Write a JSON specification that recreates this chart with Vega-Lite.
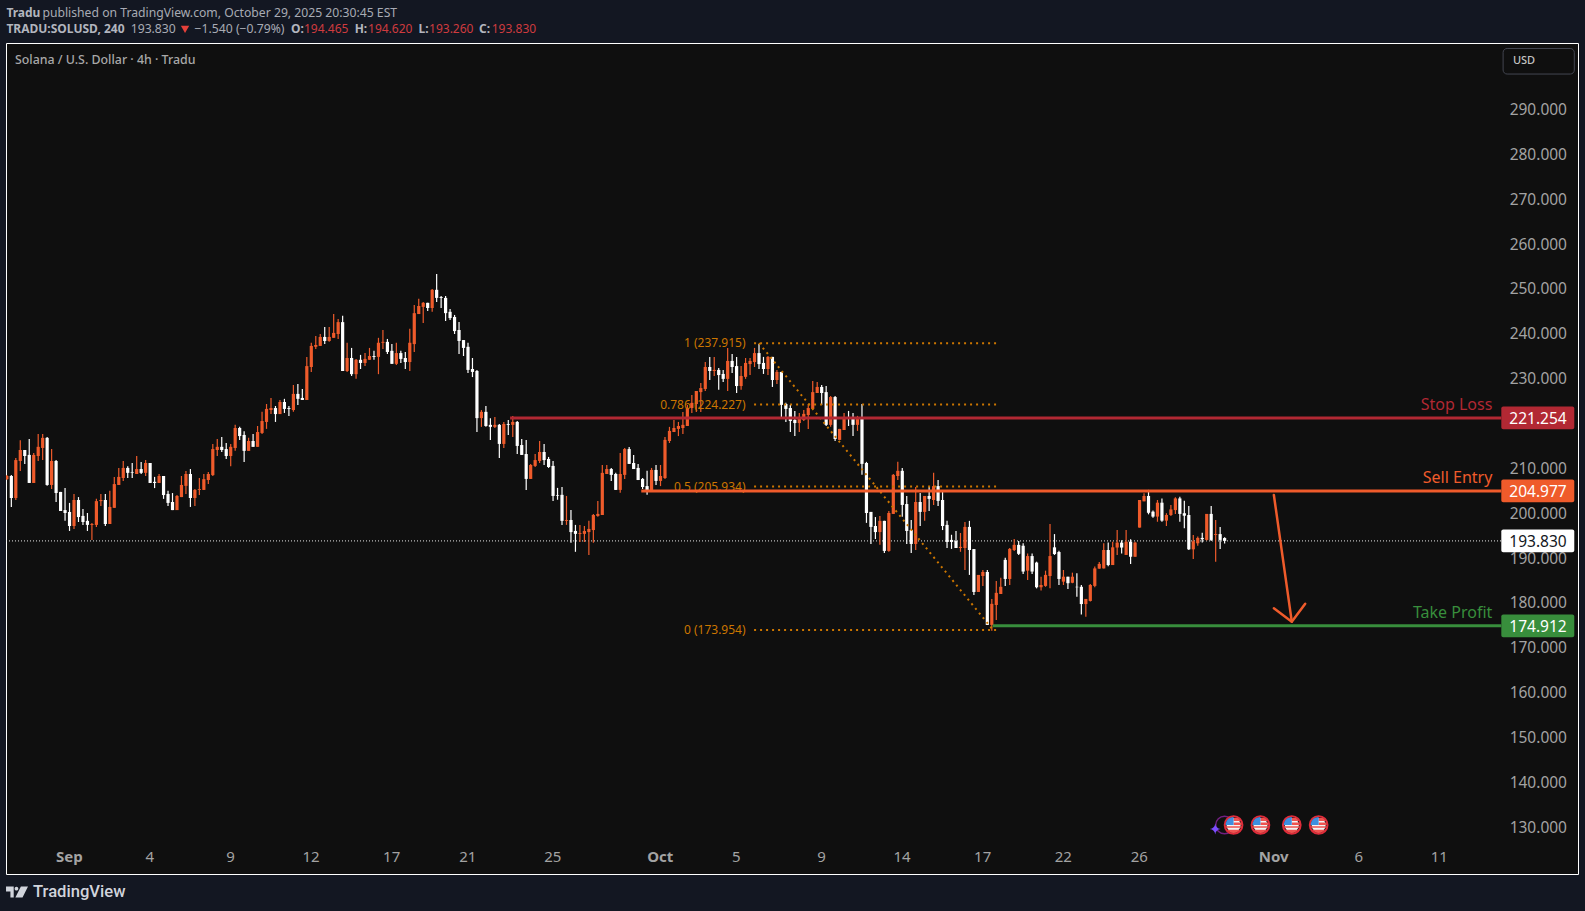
{
  "$schema": "https://vega.github.io/schema/vega-lite/v6.json",
  "description": "Solana / U.S. Dollar 4h candles with sell setup levels",
  "width": 1572,
  "height": 831,
  "autosize": {"type": "none"},
  "padding": {"left": 6, "top": 43, "right": 7, "bottom": 37},
  "background": "#131722",
  "view": {"fill": "#0f0f0f", "stroke": "#ffffff", "strokeWidth": 1},
  "config": {"font": "Noto Sans", "text": {"font": "Noto Sans"}},
  "datasets": {
    "candles": [
      {"bar":-1,"open":207.6,"high":208.5,"low":207.4,"close":208.3},
      {"bar":0,"open":208.3,"high":208.5,"low":201.4,"close":203.4},
      {"bar":1,"open":203.4,"high":212.3,"low":202.95,"close":211.85},
      {"bar":2,"open":211.65,"high":216.25,"low":209.4,"close":214.1},
      {"bar":3,"open":214.1,"high":214.1,"low":211,"close":212.75},
      {"bar":4,"open":213,"high":216.55,"low":206.75,"close":206.75},
      {"bar":5,"open":206.75,"high":213.45,"low":206.75,"close":213},
      {"bar":6,"open":212.75,"high":217.65,"low":211.65,"close":214.8},
      {"bar":7,"open":214.55,"high":217.65,"low":211.85,"close":216.8},
      {"bar":8,"open":216.8,"high":217,"low":206.1,"close":206.3},
      {"bar":9,"open":206.3,"high":214.3,"low":205.4,"close":211.65},
      {"bar":10,"open":211.65,"high":211.85,"low":202.5,"close":204.5},
      {"bar":11,"open":204.75,"high":204.75,"low":200.5,"close":200.5},
      {"bar":12,"open":200.7,"high":205.6,"low":198.3,"close":200.05},
      {"bar":13,"open":200.3,"high":202.3,"low":196.05,"close":197.15},
      {"bar":14,"open":197.15,"high":204.3,"low":196.5,"close":202.95},
      {"bar":15,"open":202.95,"high":203.6,"low":198.05,"close":199.15},
      {"bar":16,"open":199.4,"high":200.95,"low":197.4,"close":198.05},
      {"bar":17,"open":198.3,"high":200.05,"low":196.05,"close":197.4},
      {"bar":18,"open":197.4,"high":197.85,"low":194.05,"close":197.6},
      {"bar":19,"open":197.4,"high":203.2,"low":196.95,"close":202.7},
      {"bar":20,"open":202.7,"high":204.3,"low":201.6,"close":202.95},
      {"bar":21,"open":202.95,"high":204.3,"low":197.15,"close":197.6},
      {"bar":22,"open":197.6,"high":205,"low":197.6,"close":201.4},
      {"bar":23,"open":201.2,"high":208.1,"low":201.2,"close":206.5},
      {"bar":24,"open":206.3,"high":210.1,"low":206.3,"close":208.1},
      {"bar":25,"open":207.85,"high":211.65,"low":207.2,"close":210.1},
      {"bar":26,"open":210.1,"high":210.5,"low":207.85,"close":209},
      {"bar":27,"open":209.2,"high":211.2,"low":207.85,"close":209.05},
      {"bar":28,"open":208.75,"high":212.75,"low":208.75,"close":209.85},
      {"bar":29,"open":209.85,"high":211.4,"low":208.75,"close":209},
      {"bar":30,"open":209,"high":211.85,"low":208.3,"close":211.2},
      {"bar":31,"open":211.2,"high":211.2,"low":206.75,"close":206.75},
      {"bar":32,"open":207,"high":208.1,"low":205.6,"close":206.75},
      {"bar":33,"open":206.75,"high":208.75,"low":206.75,"close":208.3},
      {"bar":34,"open":208.3,"high":208.3,"low":203.2,"close":204.05},
      {"bar":35,"open":204.3,"high":205,"low":201.6,"close":202.3},
      {"bar":36,"open":202.5,"high":204.5,"low":200.7,"close":200.7},
      {"bar":37,"open":200.7,"high":204.05,"low":200.7,"close":203.85},
      {"bar":38,"open":203.6,"high":208.3,"low":203.6,"close":206.3},
      {"bar":39,"open":206.1,"high":209.4,"low":204.3,"close":208.75},
      {"bar":40,"open":208.75,"high":209.85,"low":201.4,"close":203.4},
      {"bar":41,"open":203.4,"high":205.4,"low":201.6,"close":205.2},
      {"bar":42,"open":205.2,"high":207.85,"low":204.05,"close":205.4},
      {"bar":43,"open":205.2,"high":208.75,"low":205.2,"close":207.6},
      {"bar":44,"open":207.4,"high":209.2,"low":206.5,"close":208.75},
      {"bar":45,"open":208.5,"high":215.45,"low":208.3,"close":214.3},
      {"bar":46,"open":214.1,"high":216.55,"low":212.75,"close":214.8},
      {"bar":47,"open":214.8,"high":217,"low":213.65,"close":214.1},
      {"bar":48,"open":214.3,"high":215.65,"low":212.1,"close":212.75},
      {"bar":49,"open":212.75,"high":215.45,"low":210.5,"close":214.8},
      {"bar":50,"open":214.55,"high":219.7,"low":213.9,"close":219},
      {"bar":51,"open":219,"high":219.25,"low":216.3,"close":217.2},
      {"bar":52,"open":217.45,"high":218.3,"low":211.4,"close":213.9},
      {"bar":53,"open":213.9,"high":216.8,"low":213.9,"close":216.1},
      {"bar":54,"open":216.1,"high":217.65,"low":214.8,"close":214.8},
      {"bar":55,"open":214.8,"high":219.45,"low":214.8,"close":218.1},
      {"bar":56,"open":217.9,"high":222.6,"low":217.65,"close":220.55},
      {"bar":57,"open":220.35,"high":224.35,"low":218.8,"close":223.25},
      {"bar":58,"open":223,"high":225.7,"low":222.1,"close":223.45},
      {"bar":59,"open":223.45,"high":223.9,"low":220.35,"close":222.1},
      {"bar":60,"open":222.1,"high":225.25,"low":222.1,"close":224.8},
      {"bar":61,"open":224.8,"high":225.5,"low":222.35,"close":223.25},
      {"bar":62,"open":223.45,"high":223.9,"low":221.7,"close":223.25},
      {"bar":63,"open":223,"high":228.6,"low":222.6,"close":226.6},
      {"bar":64,"open":226.6,"high":228.8,"low":224.15,"close":225.5},
      {"bar":65,"open":225.7,"high":227.7,"low":225.25,"close":225.25},
      {"bar":66,"open":225.25,"high":234.85,"low":225.25,"close":232.8},
      {"bar":67,"open":232.6,"high":238,"low":231.5,"close":237.3},
      {"bar":68,"open":237.1,"high":239.5,"low":236.6,"close":237.5},
      {"bar":69,"open":237.3,"high":239.95,"low":237.3,"close":239.3},
      {"bar":70,"open":239.3,"high":241.5,"low":237.7,"close":238.4},
      {"bar":71,"open":238.4,"high":241.5,"low":238.2,"close":239.3},
      {"bar":72,"open":239.1,"high":244.4,"low":239.1,"close":240.2},
      {"bar":73,"open":239.95,"high":243.3,"low":238.85,"close":242.6},
      {"bar":74,"open":242.6,"high":244,"low":231.7,"close":231.7},
      {"bar":75,"open":231.7,"high":238,"low":231.5,"close":234.6},
      {"bar":76,"open":234.6,"high":236.85,"low":230.6,"close":231},
      {"bar":77,"open":231,"high":234.4,"low":229.95,"close":234.2},
      {"bar":78,"open":234.2,"high":235.3,"low":232.15,"close":233.5},
      {"bar":79,"open":233.5,"high":235.7,"low":232.8,"close":234.4},
      {"bar":80,"open":234.2,"high":236.85,"low":234.2,"close":235.05},
      {"bar":81,"open":235.05,"high":236.2,"low":234.2,"close":234.85},
      {"bar":82,"open":234.85,"high":239.1,"low":231,"close":238},
      {"bar":83,"open":238,"high":240.85,"low":236.6,"close":238.2},
      {"bar":84,"open":238.2,"high":238.85,"low":235.5,"close":235.95},
      {"bar":85,"open":236.2,"high":237.7,"low":233.3,"close":233.3},
      {"bar":86,"open":233.3,"high":238,"low":233.05,"close":235.7},
      {"bar":87,"open":235.7,"high":236.2,"low":233.5,"close":234.4},
      {"bar":88,"open":234.6,"high":235.95,"low":232.15,"close":233.7},
      {"bar":89,"open":233.7,"high":241.1,"low":231.7,"close":238},
      {"bar":90,"open":237.7,"high":246.4,"low":235.95,"close":244.6},
      {"bar":91,"open":244.4,"high":247.8,"low":244.4,"close":246.2},
      {"bar":92,"open":246,"high":247.1,"low":242.4,"close":246.9},
      {"bar":93,"open":246.9,"high":246.9,"low":245.1,"close":245.75},
      {"bar":94,"open":245.75,"high":250,"low":244.9,"close":249.8},
      {"bar":95,"open":249.8,"high":253.3,"low":247.1,"close":248},
      {"bar":96,"open":248.2,"high":248.4,"low":245.75,"close":248},
      {"bar":97,"open":248,"high":248.4,"low":242.85,"close":244.6},
      {"bar":98,"open":244.9,"high":245.5,"low":243.1,"close":243.5},
      {"bar":99,"open":243.75,"high":244.2,"low":239.95,"close":240.6},
      {"bar":100,"open":240.85,"high":242.6,"low":235.5,"close":238.4},
      {"bar":101,"open":238.6,"high":238.6,"low":235.05,"close":236.85},
      {"bar":102,"open":237.1,"high":238,"low":231.25,"close":231.95},
      {"bar":103,"open":232.15,"high":234.6,"low":230.35,"close":231.5},
      {"bar":104,"open":231.7,"high":231.95,"low":218.1,"close":221.2},
      {"bar":105,"open":221.2,"high":223,"low":219.25,"close":222.6},
      {"bar":106,"open":222.6,"high":223.9,"low":219.25,"close":219.45},
      {"bar":107,"open":219.7,"high":221.2,"low":216.3,"close":219.25},
      {"bar":108,"open":219.25,"high":221.45,"low":219,"close":219.7},
      {"bar":109,"open":219.7,"high":219.9,"low":212.3,"close":215.45},
      {"bar":110,"open":215.45,"high":220.35,"low":214.55,"close":219.9},
      {"bar":111,"open":219.9,"high":220.8,"low":217.45,"close":219.7},
      {"bar":112,"open":219.7,"high":221.7,"low":217,"close":220.35},
      {"bar":113,"open":220.35,"high":220.55,"low":213.2,"close":215},
      {"bar":114,"open":215.2,"high":216.55,"low":213,"close":213},
      {"bar":115,"open":213.2,"high":216.35,"low":205.2,"close":207.65},
      {"bar":116,"open":207.65,"high":211,"low":207.65,"close":210.75},
      {"bar":117,"open":210.55,"high":213.2,"low":210.3,"close":211.85},
      {"bar":118,"open":211.65,"high":216.1,"low":211.2,"close":213.65},
      {"bar":119,"open":213.65,"high":215.45,"low":210.75,"close":211.85},
      {"bar":120,"open":212.1,"high":212.55,"low":210.1,"close":210.3},
      {"bar":121,"open":210.55,"high":211.65,"low":202.75,"close":203.85},
      {"bar":122,"open":204,"high":205.65,"low":203,"close":203.85},
      {"bar":123,"open":204.1,"high":205.85,"low":197.4,"close":198.3},
      {"bar":124,"open":198.3,"high":203.85,"low":197.4,"close":198.5},
      {"bar":125,"open":198.5,"high":200.7,"low":193.4,"close":195.8},
      {"bar":126,"open":196.05,"high":197.4,"low":191.4,"close":195.4},
      {"bar":127,"open":195.4,"high":197.4,"low":193.6,"close":195.6},
      {"bar":128,"open":195.4,"high":197.15,"low":193.6,"close":196.05},
      {"bar":129,"open":195.8,"high":198.3,"low":190.7,"close":196.5},
      {"bar":130,"open":196.25,"high":199.85,"low":193.4,"close":199.6},
      {"bar":131,"open":199.4,"high":202.75,"low":199.2,"close":199.85},
      {"bar":132,"open":199.6,"high":210.75,"low":199.6,"close":209},
      {"bar":133,"open":208.75,"high":210.75,"low":208.75,"close":209.85},
      {"bar":134,"open":209.85,"high":210.1,"low":207.2,"close":208.55},
      {"bar":135,"open":208.75,"high":209,"low":205.2,"close":205.2},
      {"bar":136,"open":205.2,"high":213.45,"low":204.55,"close":208.75},
      {"bar":137,"open":208.55,"high":214.55,"low":207.65,"close":214.3},
      {"bar":138,"open":214.3,"high":214.75,"low":211,"close":211},
      {"bar":139,"open":211.2,"high":213,"low":209.85,"close":209.85},
      {"bar":140,"open":210.1,"high":211,"low":207.4,"close":207.4},
      {"bar":141,"open":207.65,"high":207.85,"low":205.4,"close":205.85},
      {"bar":142,"open":206.05,"high":209.45,"low":204.1,"close":204.75},
      {"bar":143,"open":204.75,"high":210.1,"low":204.75,"close":209.65},
      {"bar":144,"open":209.65,"high":210.75,"low":206.3,"close":207.2},
      {"bar":145,"open":207.2,"high":210.75,"low":206.05,"close":208.3},
      {"bar":146,"open":207.85,"high":217,"low":207.65,"close":216.35},
      {"bar":147,"open":216.1,"high":219.25,"low":215.65,"close":218.35},
      {"bar":148,"open":218.1,"high":220.8,"low":218.1,"close":219},
      {"bar":149,"open":218.8,"high":220.35,"low":217.2,"close":219.45},
      {"bar":150,"open":219,"high":222.55,"low":217.65,"close":219.7},
      {"bar":151,"open":219.45,"high":224.15,"low":219.45,"close":223.45},
      {"bar":152,"open":223.45,"high":226.35,"low":222.35,"close":224.6},
      {"bar":153,"open":224.35,"high":227.25,"low":222.55,"close":227.25},
      {"bar":154,"open":227,"high":229.05,"low":222.55,"close":227.9},
      {"bar":155,"open":227.7,"high":233.7,"low":227.25,"close":232.6},
      {"bar":156,"open":232.6,"high":234.85,"low":229.7,"close":231.7},
      {"bar":157,"open":231.7,"high":234.85,"low":230.6,"close":231.95},
      {"bar":158,"open":231.95,"high":232.4,"low":227.5,"close":230.8},
      {"bar":159,"open":231.05,"high":231.95,"low":229.25,"close":229.95},
      {"bar":160,"open":229.95,"high":236.85,"low":227.25,"close":233.95},
      {"bar":161,"open":233.95,"high":235.5,"low":231.25,"close":232.6},
      {"bar":162,"open":232.8,"high":234.85,"low":226.8,"close":228.35},
      {"bar":163,"open":228.35,"high":232.8,"low":227.5,"close":230.6},
      {"bar":164,"open":230.4,"high":234.6,"low":229.95,"close":233.5},
      {"bar":165,"open":233.25,"high":234.6,"low":230.8,"close":233.95},
      {"bar":166,"open":233.7,"high":236.85,"low":232.6,"close":235.7},
      {"bar":167,"open":235.7,"high":237.75,"low":232.15,"close":233.25},
      {"bar":168,"open":233.5,"high":234.85,"low":231.05,"close":232.15},
      {"bar":169,"open":232.15,"high":235.05,"low":230.8,"close":234.85},
      {"bar":170,"open":234.85,"high":234.85,"low":228.15,"close":229.7},
      {"bar":171,"open":229.7,"high":231.95,"low":228.8,"close":231.5},
      {"bar":172,"open":231.5,"high":231.5,"low":221.25,"close":224.15},
      {"bar":173,"open":224.35,"high":224.6,"low":220.35,"close":223.25},
      {"bar":174,"open":223.45,"high":224.15,"low":218.1,"close":220.55},
      {"bar":175,"open":220.8,"high":222.8,"low":217.2,"close":220.1},
      {"bar":176,"open":220.1,"high":222.35,"low":218.1,"close":221.45},
      {"bar":177,"open":220.8,"high":223,"low":220.55,"close":222.15},
      {"bar":178,"open":221.9,"high":224.35,"low":218.8,"close":223.45},
      {"bar":179,"open":223.25,"high":229.45,"low":223.25,"close":227},
      {"bar":180,"open":226.8,"high":229.25,"low":226.8,"close":228.15},
      {"bar":181,"open":228.15,"high":228.6,"low":224.15,"close":226.8},
      {"bar":182,"open":227,"high":228.35,"low":219.45,"close":219.7},
      {"bar":183,"open":219.7,"high":226.15,"low":219.25,"close":225.9},
      {"bar":184,"open":225.9,"high":226.15,"low":216.1,"close":216.55},
      {"bar":185,"open":216.35,"high":218.8,"low":216.35,"close":218.8},
      {"bar":186,"open":218.55,"high":222.35,"low":218.55,"close":221.45},
      {"bar":187,"open":221.25,"high":222.8,"low":219.45,"close":221},
      {"bar":188,"open":221,"high":222.35,"low":217.2,"close":219.7},
      {"bar":189,"open":219.7,"high":221.7,"low":218.35,"close":221.45},
      {"bar":190,"open":221.45,"high":224.35,"low":208.55,"close":211},
      {"bar":191,"open":211.2,"high":211.45,"low":197.85,"close":200.05},
      {"bar":192,"open":200.3,"high":200.3,"low":193.15,"close":196.95},
      {"bar":193,"open":197.15,"high":199.15,"low":194.25,"close":195.8},
      {"bar":194,"open":195.8,"high":199.4,"low":192.95,"close":198.3},
      {"bar":195,"open":198.3,"high":198.3,"low":191.15,"close":191.6},
      {"bar":196,"open":191.6,"high":200.5,"low":191.4,"close":200.05},
      {"bar":197,"open":199.85,"high":208.75,"low":199.85,"close":208.55},
      {"bar":198,"open":208.3,"high":211.45,"low":207.4,"close":209.45},
      {"bar":199,"open":209.45,"high":210.1,"low":199.2,"close":201.85},
      {"bar":200,"open":202.05,"high":203.85,"low":193.15,"close":196.05},
      {"bar":201,"open":196.25,"high":198.5,"low":191.15,"close":193.15},
      {"bar":202,"open":193.15,"high":205.85,"low":191.8,"close":202.5},
      {"bar":203,"open":202.5,"high":204.5,"low":197.15,"close":200.3},
      {"bar":204,"open":200.3,"high":203.85,"low":198.3,"close":203.85},
      {"bar":205,"open":203.85,"high":205.85,"low":200.5,"close":203.2},
      {"bar":206,"open":202.95,"high":209,"low":201.85,"close":206.05},
      {"bar":207,"open":206.05,"high":207.4,"low":201.6,"close":202.75},
      {"bar":208,"open":202.95,"high":204.95,"low":196.25,"close":197.15},
      {"bar":209,"open":197.4,"high":198.3,"low":192.25,"close":193.6},
      {"bar":210,"open":194.05,"high":195.2,"low":192.05,"close":193.6},
      {"bar":211,"open":193.8,"high":196.05,"low":192.25,"close":192.25},
      {"bar":212,"open":192.25,"high":195.6,"low":191.4,"close":192.5},
      {"bar":213,"open":192.25,"high":198.05,"low":187.35,"close":196.95},
      {"bar":214,"open":196.95,"high":198.3,"low":186.25,"close":191.8},
      {"bar":215,"open":192,"high":192,"low":181.8,"close":182.45},
      {"bar":216,"open":182.45,"high":186.25,"low":182.45,"close":186.25},
      {"bar":217,"open":186,"high":187.35,"low":183.8,"close":186.9},
      {"bar":218,"open":186.9,"high":187.35,"low":175.1,"close":175.1},
      {"bar":219,"open":175.1,"high":180.9,"low":173.8,"close":179.8},
      {"bar":220,"open":179.55,"high":184.9,"low":176.2,"close":182.25},
      {"bar":221,"open":182,"high":185.6,"low":182,"close":183.6},
      {"bar":222,"open":189.6,"high":190.05,"low":183.8,"close":185.35},
      {"bar":223,"open":185.35,"high":192.25,"low":184,"close":192.05},
      {"bar":224,"open":191.8,"high":194.25,"low":191.6,"close":192.95},
      {"bar":225,"open":192.95,"high":193.8,"low":190.7,"close":190.95},
      {"bar":226,"open":192.75,"high":193.3,"low":186.45,"close":187},
      {"bar":227,"open":187.2,"high":191.05,"low":185.1,"close":190.45},
      {"bar":228,"open":190.45,"high":191.05,"low":186.45,"close":187},
      {"bar":229,"open":189,"high":189.2,"low":183.25,"close":183.5},
      {"bar":230,"open":183.5,"high":185.85,"low":182.75,"close":184},
      {"bar":231,"open":183.8,"high":187.2,"low":183.6,"close":186.25},
      {"bar":232,"open":186,"high":197.6,"low":183.25,"close":190.45},
      {"bar":233,"open":192.4,"high":195.35,"low":190.7,"close":190.9},
      {"bar":234,"open":191.35,"high":191.65,"low":184,"close":185.35},
      {"bar":235,"open":184.75,"high":187.35,"low":184,"close":185.85},
      {"bar":236,"open":185.85,"high":185.85,"low":183.1,"close":184.4},
      {"bar":237,"open":184.5,"high":186.75,"low":184.4,"close":185.85},
      {"bar":238,"open":183.6,"high":186.6,"low":181.4,"close":183.5},
      {"bar":239,"open":183.6,"high":184,"low":177.45,"close":179.75},
      {"bar":240,"open":179.75,"high":180.9,"low":176.95,"close":180.9},
      {"bar":241,"open":180.45,"high":184.2,"low":180.3,"close":184},
      {"bar":242,"open":183.8,"high":188.1,"low":183.5,"close":187.7},
      {"bar":243,"open":187.65,"high":189.15,"low":187.65,"close":188.7},
      {"bar":244,"open":187.7,"high":193.3,"low":187.7,"close":191.8},
      {"bar":245,"open":191.8,"high":193.45,"low":188.2,"close":188.45},
      {"bar":246,"open":188.45,"high":193.65,"low":188.45,"close":192.4},
      {"bar":247,"open":192.35,"high":196.25,"low":190.7,"close":193.45},
      {"bar":248,"open":193.45,"high":194,"low":191.05,"close":192.35},
      {"bar":249,"open":190.7,"high":196.25,"low":190.7,"close":193.65},
      {"bar":250,"open":193.65,"high":194.2,"low":188.7,"close":190.3},
      {"bar":251,"open":190.3,"high":193.65,"low":190.3,"close":193.45},
      {"bar":252,"open":196.8,"high":202.95,"low":196.8,"close":202.95},
      {"bar":253,"open":202.65,"high":204.45,"low":202.65,"close":203.85},
      {"bar":254,"open":203.85,"high":205.2,"low":199.75,"close":200.1},
      {"bar":255,"open":200.35,"high":200.6,"low":199,"close":199.25},
      {"bar":256,"open":199.25,"high":202.95,"low":198.1,"close":202.35},
      {"bar":257,"open":202.35,"high":203.3,"low":198.1,"close":198.35},
      {"bar":258,"open":198.35,"high":200,"low":197.15,"close":199.6},
      {"bar":259,"open":199.6,"high":201.85,"low":199.4,"close":200.85},
      {"bar":260,"open":200.7,"high":203.55,"low":199.85,"close":203.3},
      {"bar":261,"open":203.3,"high":203.7,"low":198.1,"close":199.85},
      {"bar":262,"open":200,"high":202.8,"low":196.65,"close":199.45},
      {"bar":263,"open":199.6,"high":201.6,"low":191.8,"close":191.95},
      {"bar":264,"open":191.95,"high":195.15,"low":189.8,"close":193.75},
      {"bar":265,"open":193.3,"high":194.8,"low":192.75,"close":194.5},
      {"bar":266,"open":194.5,"high":195.65,"low":193.5,"close":194.2},
      {"bar":267,"open":194.05,"high":199.85,"low":193.9,"close":199.85},
      {"bar":268,"open":199.85,"high":201.6,"low":193.8,"close":194.05},
      {"bar":269,"open":195.15,"high":198.5,"low":189.2,"close":195.35},
      {"bar":270,"open":195.35,"high":196.95,"low":192.05,"close":194.05},
      {"bar":271,"open":194.465,"high":194.62,"low":193.26,"close":193.83}
    ],
    "fib": [
      {"bar":165.9,"end":220.1,"price":237.915,"labelBar":164,"label":"1 (237.915)"},
      {"bar":165.9,"end":220.1,"price":224.227,"labelBar":164,"label":"0.786 (224.227)"},
      {"bar":165.9,"end":220.1,"price":205.934,"labelBar":164,"label":"0.5 (205.934)"},
      {"bar":165.9,"end":220.1,"price":173.954,"labelBar":164,"label":"0 (173.954)"}
    ],
    "diagonal": [
      {"bar":167,"price":237.915},
      {"bar":219.3,"price":173.954}
    ],
    "levels": [
      {"name":"Stop Loss","bar":111.4,"end":332.8,"price":221.254,"labelBar":330.8,"labelPrice":224.13},
      {"name":"Sell Entry","bar":140.7,"end":332.8,"price":204.977,"labelBar":330.8,"labelPrice":207.92},
      {"name":"Take Profit","bar":219.2,"end":332.8,"price":174.912,"labelBar":330.8,"labelPrice":177.83}
    ],
    "tags": [
      {"name":"Stop Loss","bar":332.8,"end":349.1,"mid":341,"price":221.254,"lo":218.72,"hi":223.79},
      {"name":"Sell Entry","bar":332.8,"end":349.1,"mid":341,"price":204.977,"lo":202.44,"hi":207.51},
      {"name":"Last","bar":332.8,"end":349.1,"mid":341,"price":193.83,"lo":191.3,"hi":196.36},
      {"name":"Take Profit","bar":332.8,"end":349.1,"mid":341,"price":174.912,"lo":172.38,"hi":177.45}
    ],
    "arrow": [
      {"part":"shaft","seq":1,"bar":282,"price":204.07},
      {"part":"shaft","seq":2,"bar":286,"price":175.83},
      {"part":"head","seq":1,"bar":282,"price":178.8},
      {"part":"head","seq":2,"bar":286,"price":175.83},
      {"part":"head","seq":3,"bar":289,"price":179.8}
    ],
    "events": [
      {"bar":273,"price":130.5},
      {"bar":279,"price":130.5},
      {"bar":286,"price":130.5},
      {"bar":292,"price":130.5}
    ]
  },
  "encoding": {
    "x": {
      "field": "bar",
      "type": "quantitative",
      "scale": {"domain": [-1.19, 349.93], "nice": false, "zero": false, "padding": 0},
      "axis": {
        "title": null,
        "orient": "bottom",
        "offset": -18,
        "grid": false,
        "domain": false,
        "ticks": false,
        "labelPadding": 0,
        "labelOffset": -0.7,
        "labelBaseline": "middle",
        "labelFontSize": 15,
        "labelColor": "#a3a3a3",
        "labelFlush": false,
        "labelOverlap": false,
        "values": [13, 31, 49, 67, 85, 102, 121, 145, 162, 181, 199, 217, 235, 252, 282, 301, 319],
        "labelExpr": "{'13':'Sep','31':'4','49':'9','67':'12','85':'17','102':'21','121':'25','145':'Oct','162':'5','181':'9','199':'14','217':'17','235':'22','252':'26','282':'Nov','301':'6','319':'11'}[datum.value]",
        "labelFontWeight": {"condition": {"test": "datum.value==13||datum.value==145||datum.value==282", "value": "bold"}, "value": "normal"}
      }
    },
    "y": {
      "field": "price",
      "type": "quantitative",
      "scale": {"domain": [119.58, 304.82], "nice": false, "zero": false},
      "axis": {
        "title": null,
        "orient": "right",
        "offset": -11.5,
        "grid": false,
        "domain": false,
        "ticks": false,
        "labelPadding": 0,
        "labelAlign": "right",
        "labelFontSize": 15.5,
        "labelColor": "#a3a3a3",
        "labelFlush": false,
        "labelOverlap": false,
        "format": ".3f",
        "values": [130, 140, 150, 160, 170, 180, 190, 200, 210, 230, 240, 250, 260, 270, 280, 290]
      }
    }
  },
  "layer": [
    {
      "data": {"values": [{"bar": -1.19, "end": 332.8, "price": 193.83}]},
      "mark": {"type": "rule", "color": "#e8e8e8", "strokeWidth": 1, "strokeDash": [1, 2]},
      "encoding": {"x2": {"field": "end"}}
    },
    {
      "data": {"name": "candles"},
      "mark": {"type": "rule", "strokeWidth": 1.2, "clip": true},
      "encoding": {
        "y": {"field": "low", "type": "quantitative", "scale": {"domain": [119.58, 304.82], "nice": false, "zero": false}},
        "y2": {"field": "high"},
        "color": {"condition": {"test": "datum.close>=datum.open", "value": "#ef5b2b"}, "value": "#ffffff"}
      }
    },
    {
      "data": {"name": "candles"},
      "mark": {"type": "bar", "size": 3.2, "clip": true},
      "encoding": {
        "y": {"field": "open", "type": "quantitative", "scale": {"domain": [119.58, 304.82], "nice": false, "zero": false}},
        "y2": {"field": "close"},
        "color": {"condition": {"test": "datum.close>=datum.open", "value": "#ef5b2b"}, "value": "#ffffff"}
      }
    },
    {
      "data": {"name": "fib"},
      "mark": {"type": "rule", "color": "#cc7600", "strokeWidth": 2, "strokeDash": [2, 4]},
      "encoding": {"x2": {"field": "end"}}
    },
    {
      "data": {"name": "fib"},
      "mark": {"type": "text", "align": "right", "baseline": "middle", "fontSize": 12, "color": "#cc7600"},
      "encoding": {
        "x": {"field": "labelBar", "type": "quantitative", "scale": {"domain": [-1.19, 349.93], "nice": false, "zero": false, "padding": 0}},
        "text": {"field": "label"}
      }
    },
    {
      "data": {"name": "diagonal"},
      "mark": {"type": "line", "color": "#cc7600", "strokeWidth": 2, "strokeDash": [2, 4]}
    },
    {
      "data": {"name": "levels"},
      "mark": {"type": "rule", "strokeWidth": 3},
      "encoding": {
        "x2": {"field": "end"},
        "color": {"field": "name", "type": "nominal", "scale": {"domain": ["Stop Loss", "Sell Entry", "Take Profit", "Last"], "range": ["#b22833", "#ef5b2b", "#388e3c", "#ffffff"]}, "legend": null}
      }
    },
    {
      "data": {"name": "levels"},
      "mark": {"type": "text", "align": "right", "baseline": "middle", "fontSize": 16},
      "encoding": {
        "x": {"field": "labelBar", "type": "quantitative", "scale": {"domain": [-1.19, 349.93], "nice": false, "zero": false, "padding": 0}},
        "y": {"field": "labelPrice", "type": "quantitative", "scale": {"domain": [119.58, 304.82], "nice": false, "zero": false}},
        "text": {"field": "name"},
        "color": {"field": "name", "type": "nominal", "scale": {"domain": ["Stop Loss", "Sell Entry", "Take Profit", "Last"], "range": ["#b22833", "#ef5b2b", "#388e3c", "#ffffff"]}, "legend": null}
      }
    },
    {
      "data": {"name": "arrow"},
      "mark": {"type": "line", "color": "#ef5b2b", "strokeWidth": 2.5, "strokeCap": "round", "strokeJoin": "round"},
      "encoding": {"detail": {"field": "part"}, "order": {"field": "seq"}}
    },
    {
      "data": {"name": "tags"},
      "mark": {"type": "bar", "cornerRadius": 2, "dy": 0},
      "encoding": {
        "x2": {"field": "end"},
        "y": {"field": "lo", "type": "quantitative", "scale": {"domain": [119.58, 304.82], "nice": false, "zero": false}},
        "y2": {"field": "hi"},
        "color": {"field": "name", "type": "nominal", "scale": {"domain": ["Stop Loss", "Sell Entry", "Take Profit", "Last"], "range": ["#b22833", "#ef5b2b", "#388e3c", "#ffffff"]}, "legend": null}
      }
    },
    {
      "data": {"name": "tags"},
      "mark": {"type": "text", "align": "center", "baseline": "middle", "fontSize": 15.5, "dy": 1},
      "encoding": {
        "x": {"field": "mid", "type": "quantitative", "scale": {"domain": [-1.19, 349.93], "nice": false, "zero": false, "padding": 0}},
        "text": {"field": "price", "type": "quantitative", "format": ".3f"},
        "color": {"condition": {"test": "datum.name=='Last'", "value": "#131722"}, "value": "#ffffff"}
      }
    },
    {
      "data": {"values": [{"bar": 333.2, "end": 349.1, "lo": 297.9, "hi": 303.6}]},
      "mark": {"type": "bar", "fill": "#0f0f0f", "stroke": "#434651", "strokeWidth": 1, "cornerRadius": 4},
      "encoding": {
        "x2": {"field": "end"},
        "y": {"field": "lo", "type": "quantitative", "scale": {"domain": [119.58, 304.82], "nice": false, "zero": false}},
        "y2": {"field": "hi"}
      }
    },
    {
      "data": {"values": [{"bar": 335.4, "price": 300.75, "label": "USD"}]},
      "mark": {"type": "text", "align": "left", "baseline": "middle", "fontSize": 11, "fontWeight": 500, "color": "#c4c4c4"},
      "encoding": {"text": {"field": "label"}}
    },
    {
      "data": {"name": "events"},
      "transform": [{"filter": "datum.bar==273"}],
      "mark": {"type": "point", "filled": false, "size": 314, "color": "#9c27b0", "strokeWidth": 1.5, "xOffset": -9},
      "encoding": {}
    },
    {
      "data": {"values": [{"bar": 268.9, "price": 129.6}]},
      "mark": {"type": "point", "filled": true, "size": 120, "color": "#7c4dff", "opacity": 1, "shape": "M0,-1Q0.1,-0.1 1,0Q0.1,0.1 0,1Q-0.1,0.1 -1,0Q-0.1,-0.1 0,-1Z"}
    },
    {
      "data": {"name": "events"},
      "mark": {"type": "point", "shape": "circle", "filled": true, "size": 314, "fill": "#0f0f0f", "stroke": "#df2c3a", "strokeWidth": 2, "opacity": 1}
    },
    {
      "data": {"name": "events"},
      "mark": {"type": "point", "shape": "circle", "filled": true, "size": 200, "color": "#f4f4f4", "opacity": 1}
    },
    {
      "data": {"name": "events"},
      "mark": {"type": "point", "filled": true, "size": 256, "color": "#ef5350", "opacity": 1, "shape": "M0,-0.87H0.5A1,1 0 0 1 0.87,-0.5H0ZM0,-0.3H0.95A1,1 0 0 1 1,0H0ZM-0.99,0.15H0.99A1,1 0 0 1 0.94,0.35H-0.94ZM-0.8,0.6H0.8A1,1 0 0 1 -0.8,0.6Z"}
    },
    {
      "data": {"name": "events"},
      "mark": {"type": "point", "filled": true, "size": 256, "color": "#3d8fe0", "opacity": 1, "shape": "M0,-1A1,1 0 0 0 -1,0H0Z"}
    },
    {
      "data": {"values": [{"bar": 0.8, "price": 300.92, "label": "Solana / U.S. Dollar · 4h · Tradu"}]},
      "mark": {"type": "text", "align": "left", "baseline": "middle", "fontSize": 12.4, "fontWeight": 500, "color": "#a8a8a8"},
      "encoding": {"text": {"field": "label"}}
    },
    {
      "data": {"values": [
        {"bar": -1.1, "price": 311.51, "label": "Tradu"},
        {"bar": -1.1, "price": 307.83, "label": "TRADU:SOLUSD, 240"},
        {"bar": 62.47, "price": 307.83, "label": "O:"},
        {"bar": 76.68, "price": 307.83, "label": "H:"},
        {"bar": 90.97, "price": 307.83, "label": "L:"},
        {"bar": 104.47, "price": 307.83, "label": "C:"}
      ]},
      "mark": {"type": "text", "align": "left", "baseline": "middle", "fontSize": 12, "fontWeight": "bold", "color": "#b2b5be"},
      "encoding": {"text": {"field": "label"}}
    },
    {
      "data": {"values": [
        {"bar": 6.95, "price": 311.51, "label": "published on TradingView.com, October 29, 2025 20:30:45 EST"},
        {"bar": 26.66, "price": 307.83, "label": "193.830"},
        {"bar": 40.94, "price": 307.83, "label": "−1.540 (−0.79%)"}
      ]},
      "mark": {"type": "text", "align": "left", "baseline": "middle", "fontSize": 12.2, "color": "#a8abb4"},
      "encoding": {"text": {"field": "label"}}
    },
    {
      "data": {"values": [
        {"bar": 65.37, "price": 307.83, "label": "194.465"},
        {"bar": 79.67, "price": 307.83, "label": "194.620"},
        {"bar": 93.3, "price": 307.83, "label": "193.260"},
        {"bar": 107.3, "price": 307.83, "label": "193.830"}
      ]},
      "mark": {"type": "text", "align": "left", "baseline": "middle", "fontSize": 12, "color": "#cf3b3f"},
      "encoding": {"text": {"field": "label"}}
    },
    {
      "data": {"values": [{"bar": 38.8, "price": 307.83}]},
      "mark": {"type": "point", "shape": "triangle-down", "filled": true, "size": 70, "color": "#e5403a", "opacity": 1}
    },
    {
      "data": {"values": [{"bar": 1.27, "price": 115.57}]},
      "mark": {"type": "point", "filled": true, "size": 484, "color": "#d1d4dc", "opacity": 1, "shape": "M-1,-0.5H-0.3V0.5H-0.6V-0.05H-1ZM-0.22,-0.3A0.17,0.17 0 1 1 0.12,-0.3A0.17,0.17 0 1 1 -0.22,-0.3ZM0.35,-0.5H1L0.5,0.5H-0.15Z"}
    },
    {
      "data": {"values": [{"bar": 4.85, "price": 115.57, "label": "TradingView"}]},
      "mark": {"type": "text", "align": "left", "baseline": "middle", "font": "Roboto", "fontSize": 16.6, "fontWeight": 500, "color": "#d1d4dc"},
      "encoding": {"text": {"field": "label"}}
    }
  ]
}
